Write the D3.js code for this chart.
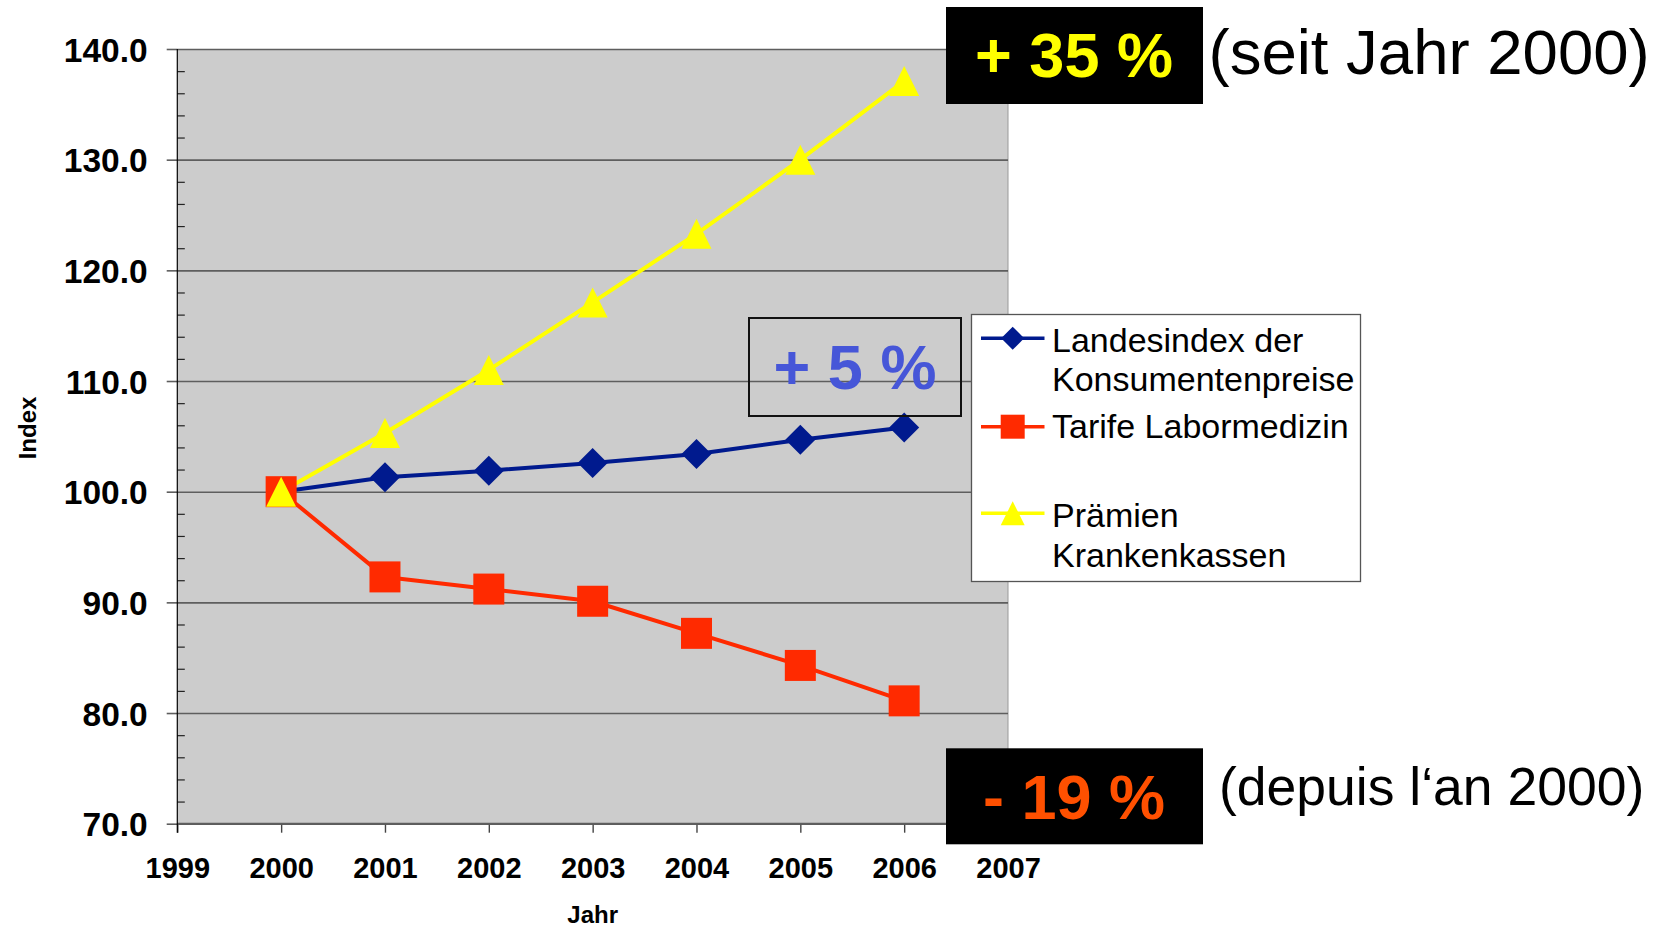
<!DOCTYPE html>
<html><head><meta charset="utf-8">
<script src="https://cdn.jsdelivr.net/npm/d3@7"></script>
<style>body{margin:0;background:#fff;} svg{display:block;font-family:"Liberation Sans",Arial,sans-serif;}</style>
</head><body>
<svg id="c" width="1655" height="928"></svg>
<script>
// ---- data ----
const years = [2000, 2001, 2002, 2003, 2004, 2005, 2006];
const xTicks = [1999, 2000, 2001, 2002, 2003, 2004, 2005, 2006, 2007];
const yTicks = [70, 80, 90, 100, 110, 120, 130, 140];
const konsumentenpreise = [100.0, 101.3, 101.9, 102.6, 103.4, 104.7, 105.8];
const labormedizin = [100.0, 92.3, 91.2, 90.1, 87.2, 84.3, 81.1];
const praemien = [100.0, 105.3, 111.0, 117.1, 123.3, 130.0, 137.1];
const seriesLabels = [["Landesindex der", "Konsumentenpreise"], ["Tarife Labormedizin"], ["Prämien", "Krankenkassen"]];
const xTitle = "Jahr";
const yTitle = "Index";
const noteUp = "+ 35 %", noteUpText = "(seit Jahr 2000)";
const noteDown = "- 19 %", noteDownText = "(depuis l\u2018an 2000)";
const noteMid = "+ 5 %";

// ---- layout ----
const svg = d3.select("#c");
const L = 177.3, R = 1008, T = 49, B = 823.7;
const x = d3.scaleLinear().domain([1999, 2007]).range([L, R]);
const y = d3.scaleLinear().domain([70, 140]).range([B, T]);

const series = [
  {vals: konsumentenpreise, color: "#001a8e", shape: "diamond"},
  {vals: labormedizin, color: "#ff2a00", shape: "square"},
  {vals: praemien, color: "#ffff00", shape: "triangle"}
];

function marker(shape, s) {
  const h = s / 2;
  if (shape === "diamond") return `M0,${-h}L${h},0L0,${h}L${-h},0Z`;
  if (shape === "square") return `M${-h},${-h}H${h}V${h}H${-h}Z`;
  return `M0,${-h}L${h},${h}L${-h},${h}Z`;
}

// plot background
svg.append("rect").attr("x", L).attr("y", T).attr("width", R - L).attr("height", B - T).attr("fill", "#cccccc");
// right border
svg.append("line").attr("x1", R).attr("x2", R).attr("y1", T).attr("y2", B).attr("stroke", "#9a9a9a").attr("stroke-width", 1);

// gridlines
const grid = svg.append("g").attr("transform", `translate(${L},0)`)
  .call(d3.axisLeft(y).tickValues(yTicks).tickSize(-(R - L)).tickFormat(""));
grid.select(".domain").remove();
grid.selectAll("line").attr("stroke", "#5e5e5e").attr("stroke-width", 1.6);

// minor ticks (inside)
const minor = d3.range(72, 140, 2).filter(v => v % 10 !== 0);
const mg = svg.append("g").attr("transform", `translate(${L},0)`)
  .call(d3.axisRight(y).tickValues(minor).tickSize(7.5).tickFormat(""));
mg.select(".domain").remove();
mg.selectAll("line").attr("stroke", "#222").attr("stroke-width", 1.2);

// y axis (major ticks outside + labels)
const ya = svg.append("g").attr("transform", `translate(${L},0)`)
  .call(d3.axisLeft(y).tickValues(yTicks).tickSize(10.6).tickPadding(19).tickFormat(d3.format(".1f")));
ya.select(".domain").remove();
ya.selectAll("line").attr("stroke", "#5e5e5e").attr("stroke-width", 1.6);
ya.selectAll("text").attr("font-family", "Liberation Sans, Arial, sans-serif").attr("font-size", 33.5)
  .attr("font-weight", "bold").attr("fill", "#000").attr("dy", "0.36em");

// x axis
const xa = svg.append("g").attr("transform", `translate(0,${B})`)
  .call(d3.axisBottom(x).tickValues(xTicks).tickSize(9).tickFormat(d3.format("d")));
xa.select(".domain").remove();
xa.selectAll("line").attr("stroke", "#444").attr("stroke-width", 1.4);
xa.selectAll("text").attr("font-family", "Liberation Sans, Arial, sans-serif").attr("font-size", 29)
  .attr("font-weight", "bold").attr("fill", "#000").attr("y", 878.3 - B).attr("dy", 0);

// axis lines
svg.append("line").attr("x1", L).attr("x2", R).attr("y1", B).attr("y2", B).attr("stroke", "#5e5e5e").attr("stroke-width", 2);
svg.append("line").attr("x1", L).attr("x2", L).attr("y1", T).attr("y2", B + 9).attr("stroke", "#000").attr("stroke-width", 1.2);

// axis titles
svg.append("text").attr("x", x(2003)).attr("y", 923).attr("text-anchor", "middle")
  .attr("font-size", 24).attr("font-weight", "bold").text(xTitle);
svg.append("text").attr("transform", "translate(35.5,428) rotate(-90)").attr("text-anchor", "middle")
  .attr("font-size", 24).attr("font-weight", "bold").text(yTitle);

// series
const line = d3.line().x((d, i) => x(years[i])).y(d => y(d));
series.forEach(s => {
  svg.append("path").attr("d", line(s.vals)).attr("fill", "none").attr("stroke", s.color).attr("stroke-width", 4).attr("stroke-linejoin", "round");
});
const msize = {diamond: 30, square: 31, triangle: 30};
series.forEach(s => {
  svg.append("g").selectAll("path").data(s.vals).join("path")
    .attr("transform", (d, i) => `translate(${x(years[i])},${y(d)})`)
    .attr("d", marker(s.shape, msize[s.shape])).attr("fill", s.color);
});

// "+ 5 %" box
svg.append("rect").attr("x", 749).attr("y", 318).attr("width", 212).attr("height", 98)
  .attr("fill", "none").attr("stroke", "#111").attr("stroke-width", 2);
svg.append("text").attr("x", 855).attr("y", 389).attr("text-anchor", "middle")
  .attr("font-size", 63).attr("font-weight", "bold").attr("fill", "#4656d8").text(noteMid);

// legend
const lg = svg.append("g");
lg.append("rect").attr("x", 971.5).attr("y", 314.5).attr("width", 389).attr("height", 267)
  .attr("fill", "#fff").attr("stroke", "#555").attr("stroke-width", 1.3);
const lineYs = [338.3, 426.7, 513.3];
const baseYs = [[351.7, 390.7], [438], [526.7, 566.7]];
const lsize = {diamond: 23, square: 24, triangle: 24};
series.forEach((s, i) => {
  lg.append("line").attr("x1", 981).attr("x2", 1044.5).attr("y1", lineYs[i]).attr("y2", lineYs[i])
    .attr("stroke", s.color).attr("stroke-width", 3.5);
  lg.append("path").attr("transform", `translate(1012.7,${lineYs[i]})`).attr("d", marker(s.shape, lsize[s.shape])).attr("fill", s.color);
  seriesLabels[i].forEach((t, j) => {
    lg.append("text").attr("x", 1052).attr("y", baseYs[i][j]).attr("font-size", 34).attr("fill", "#000").text(t);
  });
});

// "+ 35 %" annotation
svg.append("rect").attr("x", 946).attr("y", 7).attr("width", 257).attr("height", 97).attr("fill", "#000");
svg.append("text").attr("x", 1074).attr("y", 77).attr("text-anchor", "middle")
  .attr("font-size", 63).attr("font-weight", "bold").attr("fill", "#ffff00").text(noteUp);
svg.append("text").attr("x", 1208.5).attr("y", 74).attr("font-size", 63.5).attr("fill", "#000").text(noteUpText);

// "- 19 %" annotation
svg.append("rect").attr("x", 946).attr("y", 748.3).attr("width", 257).attr("height", 96).attr("fill", "#000");
svg.append("text").attr("x", 1074).attr("y", 819).attr("text-anchor", "middle")
  .attr("font-size", 63).attr("font-weight", "bold").attr("fill", "#ff5000").text(noteDown);
svg.append("text").attr("x", 1219).attr("y", 805).attr("font-size", 53.5).attr("fill", "#000").text(noteDownText);
</script>
</body></html>
